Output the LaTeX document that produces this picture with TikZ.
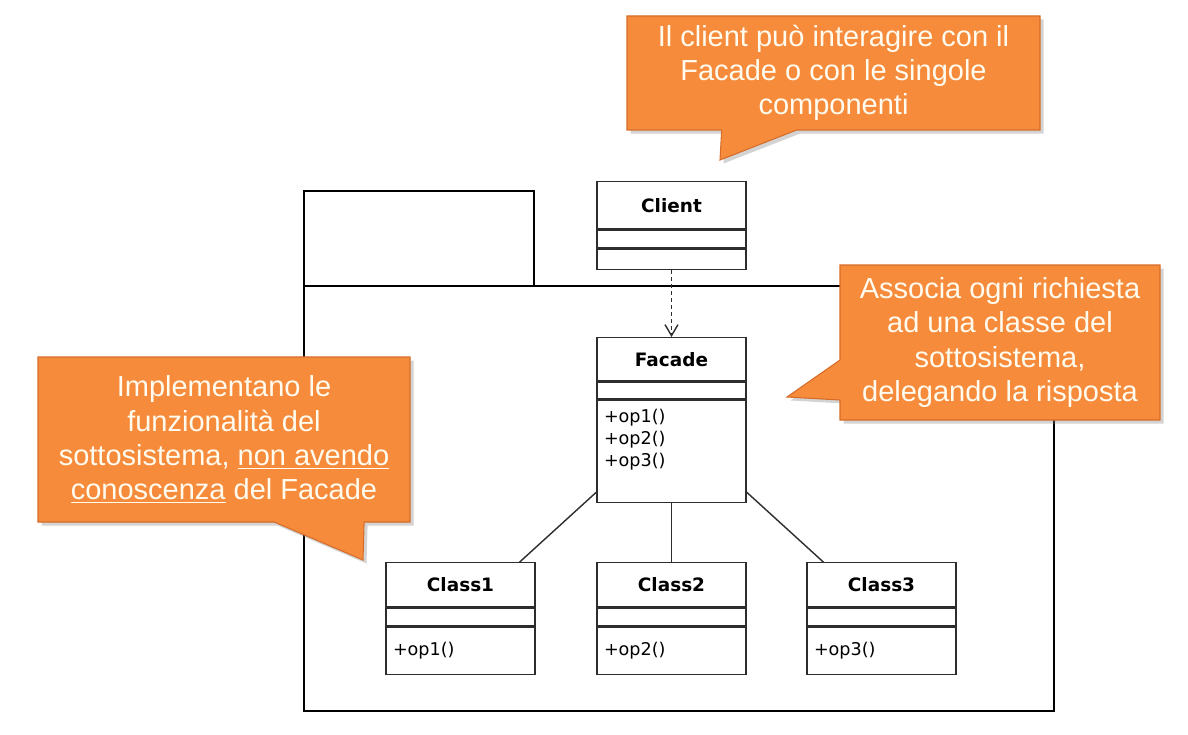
\documentclass[tikz,border=0pt]{standalone}
\usepackage{fontspec}
\setmainfont{Liberation Sans}
\newfontfamily\umlfont{DejaVu Sans}
\usetikzlibrary{positioning, arrows.meta, calc, shapes.callouts, shadows}
\definecolor{noteorange}{RGB}{246,139,60}
\definecolor{noteedge}{RGB}{214,108,40}
\definecolor{notetext}{RGB}{255,251,238}
\definecolor{umlline}{RGB}{45,45,45}
\tikzset{
  cname/.style={draw=umlline, line width=0.8pt, fill=white, minimum width=2.98cm, inner sep=0pt,
    font=\umlfont\bfseries\fontsize{10.5}{12}\selectfont},
  cattr/.style={draw=umlline, line width=0.8pt, fill=white, minimum width=2.98cm, minimum height=0.36cm, inner sep=0pt},
  cops/.style={draw=umlline, line width=0.8pt, fill=white, text width=2.7cm, inner xsep=0.14cm, inner ysep=0pt,
    align=left, font=\umlfont\fontsize{10}{12.75}\selectfont},
  assoc/.style={draw=umlline, line width=0.8pt},
  dep/.style={-{Straight Barb[length=2.2mm,width=2.6mm]}, draw=umlline, line width=0.8pt, dash pattern=on 2pt off 2pt},
  pkg/.style={draw=black, line width=1.4pt, inner sep=0pt},
  note/.style={rectangle callout, fill=noteorange, draw=noteedge, line width=0.6pt, text=notetext, align=center,
    font=\fontsize{16.5}{19.4}\selectfont,
    drop shadow={shadow xshift=0.07cm, shadow yshift=-0.07cm, opacity=0.35}}
}
\begin{document}
\begin{tikzpicture}
\useasboundingbox (0,0) rectangle (23.76,14.68);

% package
\node[pkg, minimum width=4.6cm, minimum height=1.9cm, anchor=south west] (pkgtab) at (6.06,8.94) {};
\node[pkg, minimum width=15cm, minimum height=8.5cm, anchor=south west] (pkgbody) at (6.06,0.44) {};

% client
\node[cname, minimum height=0.94cm, anchor=north] (client) at (13.43,11.06) {Client};
\node[cattr, below=0pt of client] (clientattr) {};
\node[cops, minimum height=0.4cm, below=0pt of clientattr] (clientops) {};

% facade
\node[cname, minimum height=0.86cm, anchor=north] (facade) at (13.43,7.94) {Facade};
\node[cattr, minimum height=0.34cm, below=0pt of facade] (facadeattr) {};
\node[cops, minimum height=2.04cm, below=0pt of facadeattr] (facadeops)
  {+op1()\\+op2()\\+op3()\rule[-0.55cm]{0pt}{0.55cm}};

% subsystem classes
\foreach \i/\x in {1/9.21, 2/13.43, 3/17.63} {
  \node[cname, minimum height=0.88cm, anchor=north] (class\i) at (\x,3.44) {Class\i};
  \node[cattr, below=0pt of class\i] (class\i attr) {};
  \node[cops, minimum height=0.94cm, below=0pt of class\i attr] (class\i ops) {+op\i()};
}

\draw[dep] (clientops) -- (facade);
\draw[assoc] ($(facadeops.south west)+(0,0.22)$) -- ($(class1.north east)+(-0.32,0)$);
\draw[assoc] (facadeops) -- (class2);
\draw[assoc] ($(facadeops.south east)+(0,0.22)$) -- ($(class3.north west)+(0.34,0)$);

% notes
\node[note, minimum width=8.26cm, minimum height=2.28cm, callout pointer width=1.5cm,
  callout absolute pointer={(14.4,11.48)}] (noteclient) at (16.67,13.22)
  {Il client può interagire con il\\Facade o con le singole\\componenti};
\node[note, minimum width=6.4cm, minimum height=3.1cm, callout pointer width=0.8cm,
  callout absolute pointer={(15.74,6.74)}] (notefacade) at (20.0,7.83)
  {Associa ogni richiesta\\ad una classe del\\sottosistema,\\delegando la risposta};
\node[note, minimum width=7.44cm, minimum height=3.3cm, callout pointer width=1.8cm,
  callout absolute pointer={(7.26,3.48)}] (noteclasses) at (4.48,5.89)
  {Implementano le\\funzionalità del\\sottosistema, \underline{non avendo}\\\underline{conoscenza} del Facade};
\end{tikzpicture}
\end{document}
